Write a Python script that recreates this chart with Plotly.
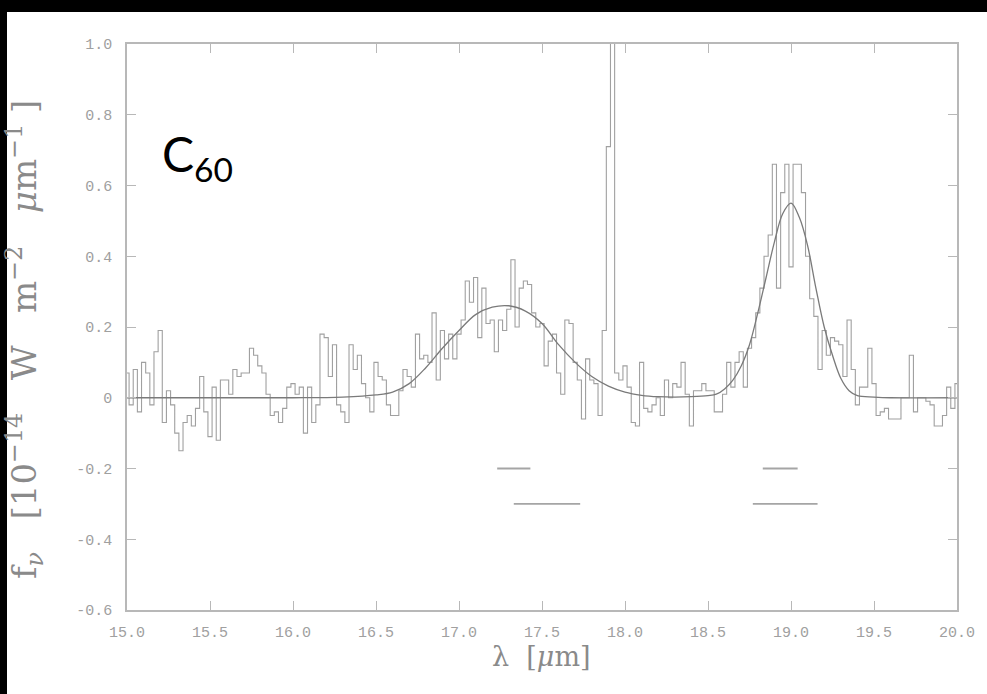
import plotly.graph_objects as go

# ---- data ----
spec_x0 = 15.0
spec_step = 0.025
spec_y = [
    # 15.000 - 15.975
    0.07, -0.02, 0.08, -0.04, 0.10, 0.07, -0.02, 0.13, 0.19, -0.07,
    0.02, -0.02, -0.10, -0.15, -0.07, -0.05, -0.08, -0.03, 0.06, -0.04,
    -0.11, 0.03, -0.12, 0.05, 0.05, 0.01, 0.08, 0.06, 0.07, 0.07,
    0.14, 0.12, 0.09, 0.07, 0.01, -0.05, -0.04, -0.07, -0.03, 0.03,
    # 16.000 - 16.975
    0.04, 0.01, 0.03, -0.10, 0.03, -0.07, -0.02, 0.18, 0.17, 0.06,
    0.15, -0.02, -0.04, -0.07, 0.15, 0.08, 0.12, 0.04, 0.00, -0.04,
    0.10, 0.06, 0.05, -0.02, -0.05, -0.05, 0.02, 0.08, 0.06, 0.03,
    0.18, 0.11, 0.12, 0.10, 0.24, 0.05, 0.19, 0.11, 0.18, 0.11,
    # 17.000 - 17.975
    0.18, 0.22, 0.33, 0.27, 0.34, 0.17, 0.31, 0.21, 0.22, 0.13,
    0.22, 0.19, 0.25, 0.39, 0.20, 0.31, 0.33, 0.32, 0.24, 0.20,
    0.21, 0.09, 0.16, 0.18, 0.07, 0.01, 0.22, 0.21, 0.10, 0.05,
    -0.06, 0.11, 0.05, 0.04, -0.05, 0.19, 0.71, 1.30, 0.07, 0.05,
    # 18.000 - 18.975
    0.09, 0.03, -0.07, -0.08, 0.10, -0.03, -0.04, -0.02, 0.00, -0.05,
    0.05, 0.00, 0.04, 0.03, 0.10, 0.01, -0.08, 0.02, 0.02, 0.04,
    0.02, 0.02, -0.04, -0.04, 0.01, 0.10, 0.03, 0.10, 0.13, 0.03,
    0.14, 0.17, 0.24, 0.31, 0.40, 0.46, 0.66, 0.31, 0.58, 0.66,
    # 19.000 - 20.000
    0.37, 0.66, 0.66, 0.58, 0.40, 0.28, 0.23, 0.08, 0.19, 0.12,
    0.17, 0.16, 0.15, 0.06, 0.22, 0.08, -0.02, 0.03, 0.03, 0.14,
    0.04, -0.05, -0.04, -0.03, -0.06, -0.06, -0.06, 0.00, 0.00, 0.12,
    -0.04, 0.00, 0.00, -0.01, -0.02, -0.08, -0.08, -0.05, 0.03, -0.03,
    0.04,
]
spec_x = [round(spec_x0 + i * spec_step, 3) for i in range(len(spec_y))]

fit_x = [15.0, 16.0, 16.3, 16.5, 16.6, 16.7, 16.8, 16.9, 17.0, 17.1, 17.2, 17.3,
         17.4, 17.5, 17.6, 17.7, 17.8, 17.9, 18.0, 18.1, 18.2, 18.3, 18.4, 18.5,
         18.55, 18.6, 18.65, 18.7, 18.75, 18.8, 18.85, 18.9, 18.95, 19.0, 19.05,
         19.1, 19.15, 19.2, 19.25, 19.3, 19.35, 19.4, 19.5, 19.6, 20.0]
fit_y = [0.0, 0.0, 0.002, 0.008, 0.016, 0.040, 0.085, 0.14, 0.19, 0.235, 0.256, 0.260,
         0.245, 0.21, 0.15, 0.10, 0.06, 0.033, 0.016, 0.007, 0.003, 0.002, 0.003, 0.006,
         0.01, 0.025, 0.05, 0.09, 0.15, 0.24, 0.34, 0.44, 0.52, 0.55, 0.51,
         0.43, 0.31, 0.20, 0.12, 0.055, 0.02, 0.006, 0.002, 0.0, 0.0]

bar_start = [17.23, 17.33, 18.83, 18.77]
bar_end = [17.43, 17.73, 19.04, 19.16]
bar_level = [-0.2, -0.3, -0.2, -0.3]

x_ticks = [15.0, 15.5, 16.0, 16.5, 17.0, 17.5, 18.0, 18.5, 19.0, 19.5, 20.0]
x_ticklabels = ["15.0", "15.5", "16.0", "16.5", "17.0", "17.5", "18.0", "18.5", "19.0", "19.5", "20.0"]
y_ticks = [-0.6, -0.4, -0.2, 0.0, 0.2, 0.4, 0.6, 0.8, 1.0]
y_ticklabels = ["-0.6", "-0.4", "-0.2", "0", "0.2", "0.4", "0.6", "0.8", "1.0"]

# ---- figure ----
W, H = 987, 694
L, R, T, B = 127, 30, 44, 84
pw, ph = W - L - R, H - T - B

fig = go.Figure()

fig.add_trace(go.Scatter(x=spec_x, y=spec_y, mode="lines", line_shape="hvh",
                         line=dict(color="#a0a0a0", width=1.1), hoverinfo="skip"))
fig.add_trace(go.Scatter(x=fit_x, y=fit_y, mode="lines", line_shape="spline",
                         line=dict(color="#7a7a7a", width=1.3), hoverinfo="skip"))

bx, by = [], []
for s, e, lv in zip(bar_start, bar_end, bar_level):
    bx += [s, e, None]
    by += [lv, lv, None]
fig.add_trace(go.Scatter(x=bx, y=by, mode="lines",
                         line=dict(color="#a5a5a5", width=1.8), hoverinfo="skip"))

axis_common = dict(showgrid=False, zeroline=False, showline=True, linecolor="#b8b8b8",
                   linewidth=1.5, mirror="ticks", ticks="inside", ticklen=9,
                   tickcolor="#b8b8b8", tickwidth=1,
                   tickfont=dict(family="Liberation Mono", size=15, color="#a0a0a0"))

fig.update_xaxes(range=[15.0, 20.0], tickvals=x_ticks, ticktext=x_ticklabels,
                 ticklabelstandoff=7, **axis_common)
fig.update_yaxes(range=[-0.6, 1.0], tickvals=y_ticks, ticktext=y_ticklabels,
                 ticklabelstandoff=10, **axis_common)

def px_x(p):
    return (p - L) / pw

def px_y(p):
    return (H - B - p) / ph

# black frame bands of the image
shapes = [
    dict(type="rect", xref="paper", yref="paper", x0=px_x(0), x1=px_x(W), y0=px_y(12), y1=px_y(0),
         fillcolor="black", line_width=0, layer="above"),
    dict(type="rect", xref="paper", yref="paper", x0=px_x(0), x1=px_x(7), y0=px_y(H), y1=px_y(0),
         fillcolor="black", line_width=0, layer="above"),
]

sp = "&nbsp;&nbsp;&nbsp;"
annotations = [
    dict(text="C<sub>60</sub>", xref="paper", yref="paper", x=px_x(160), y=px_y(157),
         xanchor="left", yanchor="middle", showarrow=False,
         font=dict(family="Lato", size=48, color="black")),
    dict(text="λ&nbsp;&nbsp;[<i>μ</i>m]", xref="paper", yref="paper", x=px_x(541), y=px_y(656),
         xanchor="center", yanchor="middle", showarrow=False,
         font=dict(family="DejaVu Serif", size=27, color="#8a8a8a")),
    dict(text="f<sub><i>ν</i></sub>" + sp + "[10<sup>−14</sup>" + sp + "W" + sp + "m<sup>−2</sup>"
              + sp + "<i>μ</i>m<sup>−1</sup>&nbsp;]",
         xref="paper", yref="paper", x=px_x(25), y=px_y(340), textangle=-90,
         xanchor="center", yanchor="middle", showarrow=False,
         font=dict(family="DejaVu Serif", size=34, color="#8a8a8a")),
]

fig.update_layout(width=W, height=H, margin=dict(l=L, r=R, t=T, b=B),
                  paper_bgcolor="white", plot_bgcolor="white", showlegend=False,
                  shapes=shapes, annotations=annotations)

fig.write_html("out.html")
